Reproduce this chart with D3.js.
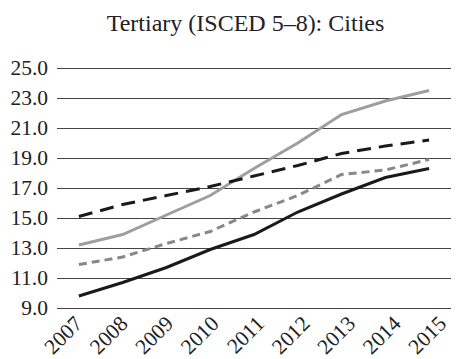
<!DOCTYPE html>
<html><head><meta charset="utf-8">
<script src="https://cdn.jsdelivr.net/npm/d3@7"></script>
<style>body{margin:0;background:#fff}</style>
</head><body>
<svg id="c" width="467" height="359"></svg>
<script>
const title = "Tertiary (ISCED 5–8): Cities";
const years = ["2007","2008","2009","2010","2011","2012","2013","2014","2015"];
const yTicks = [9,11,13,15,17,19,21,23,25];
const seriesGraySolid = [13.2,13.9,15.2,16.5,18.3,20.0,21.9,22.8,23.5];
const seriesBlackDashed = [15.1,15.9,16.5,17.1,17.8,18.5,19.3,19.8,20.2];
const seriesGrayDashed = [11.9,12.4,13.3,14.1,15.4,16.5,17.9,18.2,18.9];
const seriesBlackSolid = [9.8,10.7,11.7,12.9,13.9,15.4,16.6,17.7,18.3];

(function(){
const series = [
  {values: seriesGraySolid, color:"#9e9e9e", dash:null},
  {values: seriesBlackDashed, color:"#1a1a1a", dash:"14,8"},
  {values: seriesGrayDashed, color:"#888888", dash:"8,5"},
  {values: seriesBlackSolid, color:"#1a1a1a", dash:null}
];

const svg = d3.select("#c");
const font = "'Liberation Serif', serif";
const mLeft = 57, mRight = 451, mTop = 68, mBottom = 308;
const x = d3.scalePoint().domain(years).range([mLeft,mRight]).padding(0.5);
const xLab = d3.scalePoint().domain(years).range([78,442]);
const y = d3.scaleLinear().domain([9,25]).range([mBottom,mTop]);

svg.append("text").attr("x",245.5).attr("y",31).attr("text-anchor","middle")
  .attr("font-family",font).attr("font-size",24).attr("fill","#222").text(title);

const ya = svg.append("g").attr("transform",`translate(${mLeft},0)`)
  .call(d3.axisLeft(y).tickValues(yTicks).tickSize(-(mRight-mLeft)).tickPadding(9).tickFormat(d3.format(".1f")));
ya.select(".domain").remove();
ya.selectAll(".tick line").attr("stroke","#444").attr("stroke-width",1);
ya.selectAll(".tick text").attr("font-family",font).attr("font-size",21.5).attr("fill","#222");

const xa = svg.append("g").attr("transform",`translate(0,${mBottom})`)
  .call(d3.axisBottom(xLab).tickSize(0).tickPadding(0));
xa.select(".domain").remove();
xa.selectAll(".tick text").attr("font-family",font).attr("font-size",21.5).attr("fill","#222")
  .attr("text-anchor","end").attr("dy",0).attr("y",0)
  .attr("transform","translate(5,17) rotate(-45)");

const line = d3.line().x((d,i)=>x(years[i])).y(d=>y(d));
series.forEach(s=>{
  svg.append("path").datum(s.values).attr("d",line).attr("fill","none")
    .attr("stroke",s.color).attr("stroke-width",3)
    .attr("stroke-dasharray",s.dash);
});
})();
</script>
</body></html>
